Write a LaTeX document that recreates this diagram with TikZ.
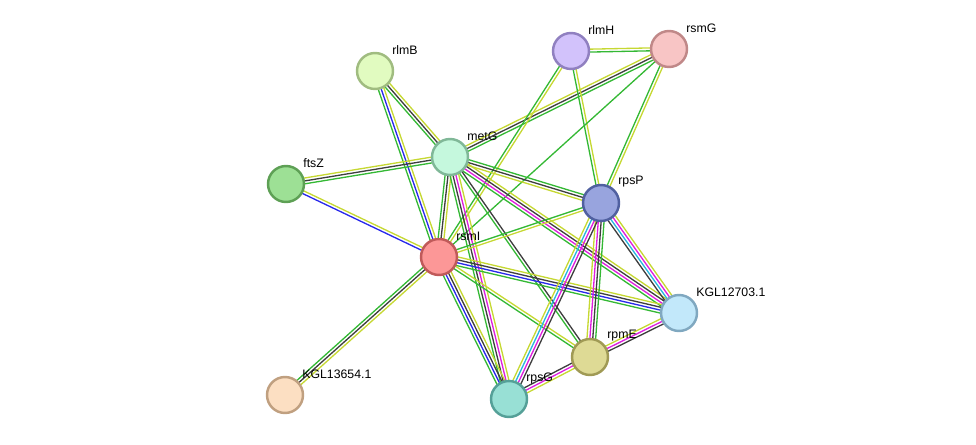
\documentclass[tikz,border=0pt]{standalone}
\usepackage{fontspec}
\setmainfont{Liberation Sans}
\usetikzlibrary{calc,backgrounds}

% evidence colours
\definecolor{sgreen}{RGB}{52,184,52}
\definecolor{sblue}{RGB}{40,40,235}
\definecolor{sblack}{RGB}{62,62,62}
\definecolor{syellow}{RGB}{198,216,50}
\definecolor{smagenta}{RGB}{222,30,222}
\definecolor{scyan}{RGB}{40,182,222}

% protein colours (fill / border)
\definecolor{rlmBf}{HTML}{E1FBC0}\definecolor{rlmBd}{HTML}{A0BC80}
\definecolor{rlmHf}{HTML}{D2C2FB}\definecolor{rlmHd}{HTML}{9080C0}
\definecolor{rsmGf}{HTML}{F8C5C5}\definecolor{rsmGd}{HTML}{C08888}
\definecolor{metGf}{HTML}{C5F8DD}\definecolor{metGd}{HTML}{80B898}
\definecolor{ftsZf}{HTML}{9DE095}\definecolor{ftsZd}{HTML}{5EA055}
\definecolor{rpsPf}{HTML}{98A4DE}\definecolor{rpsPd}{HTML}{5060A0}
\definecolor{rsmIf}{HTML}{FC9797}\definecolor{rsmId}{HTML}{C05A5A}
\definecolor{Kaf}{HTML}{C2E8FA}\definecolor{Kad}{HTML}{80A8C0}
\definecolor{rpmEf}{HTML}{DEDA95}\definecolor{rpmEd}{HTML}{A09A55}
\definecolor{Kbf}{HTML}{FCDFC2}\definecolor{Kbd}{HTML}{C0A080}
\definecolor{rpsGf}{HTML}{98E0D5}\definecolor{rpsGd}{HTML}{55A098}

% protein: name, x, y, fill, border, text
\newcommand\prot[6]{%
  \node[prot, fill=#4, draw=#5] (#1) at (#2,#3) {};
  \node[lbl] (#1-t) at ([shift={(17,-21)}]#1.center) {#6};}

% bundle of parallel lines: from, to, count, colours
\newcommand\protlink[4]{%
  \foreach \c [count=\i] in {#4} {%
    \pgfmathsetmacro\off{(\i-(#3+1)/2)*1.65}
    \draw[edge, draw=\c] ($(#1.center)!\off pt!90:(#2.center)$) -- ($(#2.center)!\off pt!-90:(#1.center)$);
  }}

\begin{document}
\begin{tikzpicture}[
  x=0.02cm, y=-0.02cm,
  prot/.style={circle, line width=1.4pt, minimum size=0.72cm, inner sep=0pt},
  lbl/.style={anchor=west, inner sep=0pt, font=\fontsize{7}{8}\selectfont},
  edge/.style={line width=0.75pt}
]
  \useasboundingbox (0,0) rectangle (976,445);

  % Proteins
  \prot{rlmB}{375}{71}{rlmBf}{rlmBd}{rlmB}
  \prot{rlmH}{571}{51}{rlmHf}{rlmHd}{rlmH}
  \prot{rsmG}{669}{49}{rsmGf}{rsmGd}{rsmG}
  \prot{metG}{450}{157}{metGf}{metGd}{metG}
  \prot{ftsZ}{286}{184}{ftsZf}{ftsZd}{ftsZ}
  \prot{rpsP}{601}{203}{rpsPf}{rpsPd}{rpsP}
  \prot{rsmI}{439}{257}{rsmIf}{rsmId}{rsmI}
  \prot{K12703}{679}{313}{Kaf}{Kad}{KGL12703.1}
  \prot{rpmE}{590}{357}{rpmEf}{rpmEd}{rpmE}
  \prot{K13654}{285}{395}{Kbf}{Kbd}{KGL13654.1}
  \prot{rpsG}{509}{399}{rpsGf}{rpsGd}{rpsG}

  % Interactions
  \begin{scope}[on background layer]
    \protlink{rlmB}{metG}{3}{sgreen,sblack,syellow}
    \protlink{rlmB}{rsmI}{3}{sgreen,sblue,syellow}
    \protlink{rlmH}{rsmG}{2}{sgreen,syellow}
    \protlink{rsmG}{metG}{3}{syellow,sblack,sgreen}
    \protlink{rlmH}{rsmI}{2}{sgreen,syellow}
    \protlink{rlmH}{rpsP}{2}{sgreen,syellow}
    \protlink{rsmG}{rsmI}{1}{sgreen}
    \protlink{rsmG}{rpsP}{2}{sgreen,syellow}
    \protlink{ftsZ}{metG}{3}{sgreen,sblack,syellow}
    \protlink{ftsZ}{rsmI}{2}{sblue,syellow}
    \protlink{metG}{rsmI}{3}{sgreen,sblack,syellow}
    \protlink{metG}{rpsP}{3}{syellow,sblack,sgreen}
    \protlink{metG}{K12703}{4}{sgreen,smagenta,sblack,syellow}
    \protlink{metG}{rpmE}{2}{sgreen,sblack}
    \protlink{metG}{rpsG}{4}{sgreen,sblack,smagenta,syellow}
    \protlink{rsmI}{rpsP}{2}{syellow,sgreen}
    \protlink{rsmI}{K12703}{4}{sgreen,sblue,sblack,syellow}
    \protlink{rsmI}{rpmE}{2}{sgreen,syellow}
    \protlink{rsmI}{rpsG}{4}{sgreen,sblue,sblack,syellow}
    \protlink{rsmI}{K13654}{3}{sgreen,sblack,syellow}
    \protlink{rpsP}{K12703}{4}{sblack,scyan,smagenta,syellow}
    \protlink{rpsP}{rpmE}{4}{syellow,smagenta,sblack,sgreen}
    \protlink{rpsP}{rpsG}{4}{syellow,scyan,smagenta,sblack}
    \protlink{rpmE}{rpsG}{3}{sblack,smagenta,syellow}
    \protlink{rpmE}{K12703}{3}{sblack,smagenta,syellow}
  \end{scope}
\end{tikzpicture}
\end{document}
